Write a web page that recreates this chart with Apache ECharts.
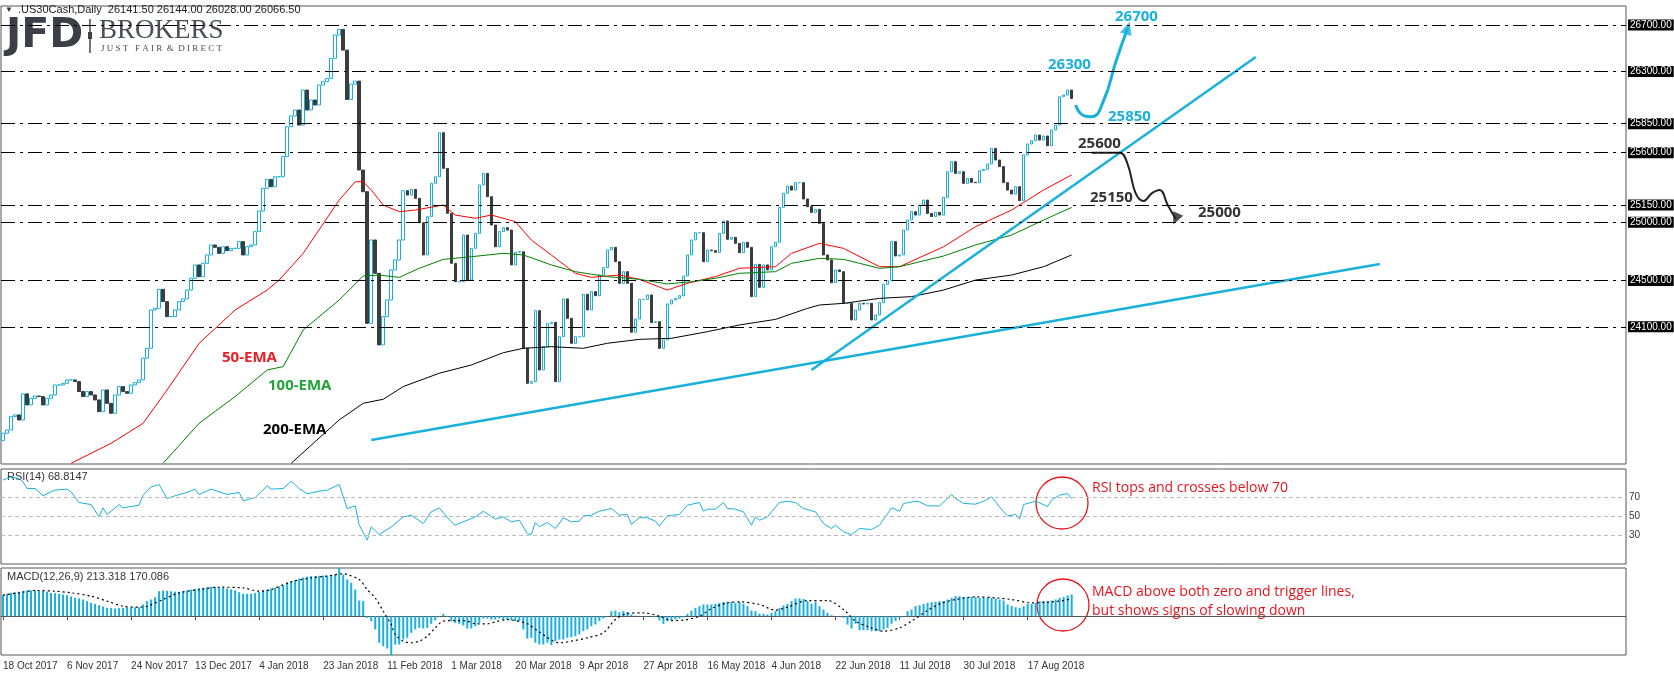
<!DOCTYPE html>
<html>
<head>
<meta charset="utf-8">
<script src="https://cdn.jsdelivr.net/npm/echarts@6/dist/echarts.min.js"></script>
<style>
  html, body { margin: 0; padding: 0; background: #fff; }
  #chart { width: 1674px; height: 675px; }
</style>
</head>
<body>
<div id="chart"></div>
<script>
// date labels, one every 16 daily bars
var dateLabels = ['18 Oct 2017', '6 Nov 2017', '24 Nov 2017', '13 Dec 2017', '4 Jan 2018', '23 Jan 2018',
  '11 Feb 2018', '1 Mar 2018', '20 Mar 2018', '9 Apr 2018', '27 Apr 2018', '16 May 2018', '4 Jun 2018',
  '22 Jun 2018', '11 Jul 2018', '30 Jul 2018', '17 Aug 2018'];

// daily closes of .US30Cash
var closes = [
  23183, 23211, 23326, 23341, 23297, 23522, 23427, 23484, 23504, 23499,
  23427, 23484, 23513, 23599, 23599, 23613, 23642, 23642, 23628, 23542,
  23499, 23542, 23513, 23470, 23369, 23556, 23441, 23355, 23513, 23585,
  23542, 23527, 23599, 23619, 23642, 23829, 23915, 24245, 24259, 24423,
  24317, 24188, 24188, 24245, 24317, 24340, 24417, 24518, 24633, 24532,
  24647, 24719, 24805, 24785, 24733, 24790, 24756, 24776, 24776, 24834,
  24719, 24790, 24805, 24920, 25098, 25293, 25370, 25307, 25393, 25393,
  25566, 25824, 25916, 25968, 25838, 26140, 25968, 26054, 26011, 26183,
  26212, 26240, 26413, 26614, 26662, 26484, 26059, 26191, 26217, 25451,
  25264, 24130, 24848, 24561, 23944, 24188, 24331, 24590, 24676, 24848,
  25273, 25235, 25284, 25207, 24997, 24719, 25049, 25336, 25393, 25772,
  25465, 25078, 24647, 24489, 24489, 24891, 24503, 24776, 24905, 25322,
  25422, 25221, 24977, 24790, 24920, 24954, 24934, 24633, 24742, 24747,
  23915, 23613, 23628, 24239, 23728, 23929, 24130, 24139, 23628, 24015,
  24340, 24173, 23958, 24015, 24015, 24380, 24245, 24403, 24368, 24546,
  24610, 24762, 24785, 24661, 24475, 24575, 24475, 24053, 24167, 24337,
  24337, 24374, 24136, 24144, 23915, 23987, 24297, 24331, 24345, 24368,
  24538, 24719, 24848, 24911, 24911, 24661, 24762, 24756, 24742, 24905,
  25012, 24854, 24871, 24819, 24739, 24828, 24785, 24360, 24638, 24440,
  24633, 24590, 24790, 24828, 25129, 25250, 25313, 25278, 25342, 25342,
  25201, 25135, 25086, 25112, 24991, 24719, 24676, 24480, 24590, 24575,
  24302, 24302, 24159, 24245, 24302, 24297, 24302, 24159, 24202, 24308,
  24466, 24498, 24834, 24710, 24719, 24934, 25020, 25092, 25063, 25149,
  25192, 25077, 25049, 25086, 25063, 25215, 25436, 25523, 25422, 25436,
  25336, 25379, 25345, 25342, 25445, 25457, 25503, 25637, 25537, 25480,
  25342, 25278, 25244, 25307, 25187, 25580, 25675, 25703, 25752, 25709,
  25744, 25660, 25795, 25838, 26082, 26097, 26140, 26066.5
];
var firstOpen = 23120;

// moving averages: [bar, value]
var ema50 = [[17, 22924], [27, 23096], [35, 23269], [41, 23556], [49, 23958], [58, 24245], [66, 24417],
  [69, 24503], [75, 24733], [84, 25192], [88, 25350], [90, 25350], [92, 25279], [95, 25149], [99, 25092],
  [103, 25106], [110, 25149], [113, 25063], [118, 25035], [122, 25063], [128, 25006], [132, 24848],
  [137, 24719], [143, 24561], [147, 24526], [154, 24546], [159, 24509], [166, 24417], [171, 24475],
  [178, 24532], [184, 24604], [193, 24618], [197, 24733], [204, 24819], [210, 24776], [219, 24618],
  [224, 24618], [235, 24790], [243, 24963], [252, 25106], [260, 25279], [267, 25408]];
var ema100 = [[40, 22924], [49, 23269], [58, 23499], [66, 23728], [70, 23757], [75, 24073], [84, 24331],
  [90, 24538], [94, 24546], [99, 24526], [104, 24604], [110, 24681], [117, 24704], [125, 24733],
  [130, 24719], [137, 24633], [143, 24575], [151, 24532], [159, 24509], [166, 24469], [172, 24489],
  [178, 24518], [184, 24561], [193, 24575], [197, 24647], [204, 24690], [210, 24681], [219, 24604],
  [224, 24618], [235, 24710], [243, 24805], [252, 24891], [260, 25020], [267, 25129]];
var ema200 = [[72, 22924], [84, 23298], [90, 23441], [95, 23476], [100, 23585], [109, 23700],
  [117, 23771], [125, 23877], [130, 23915], [137, 23929], [145, 23915], [151, 23958], [159, 23992],
  [167, 24001], [176, 24058], [184, 24116], [193, 24164], [201, 24259], [204, 24288], [210, 24302],
  [219, 24345], [227, 24360], [235, 24417], [243, 24503], [252, 24546], [260, 24618], [267, 24719]];

// trend lines and scenario paths: [bar, price]
var trendLong = [[92, 23125], [344, 24641]];
var trendShort = [[202, 23728], [313, 26424]];
var pathUp = [[268, 26011], [270, 25920], [272, 25910], [275, 26050], [278, 26380], [281, 26674]];
var pathDown = [[272, 25600], [279, 25600], [281, 25500], [283, 25250], [285, 25184], [287, 25250],
  [288.8, 25279], [291, 25150], [293, 25029]];
var levels = [26700, 26300, 25850, 25600, 25150, 25000, 24500, 24100];
var priceTicks = [26642.3, 26358.5, 25782.3, 25498.5, 25214.7, 24930.9, 24647.1, 24354.7,
  23787.1, 23503.3, 23219.5, 22935.7];

// RSI(14): [bar, value]
var rsi = [[0, 88.3], [2, 91.8], [4, 90.0], [5, 86.5], [6, 79.5], [8, 79.5], [10, 71.8], [12, 76.0],
  [13, 77.7], [16, 78.8], [17, 76.0], [19, 64.7], [22, 62.6], [24, 49.6], [25, 59.1], [26, 52.1],
  [29, 62.6], [30, 59.1], [34, 61.9], [35, 72.5], [37, 81.2], [39, 83.7], [41, 68.9], [44, 73.2],
  [46, 75.3], [48, 78.8], [49, 73.2], [52, 78.8], [56, 73.2], [59, 75.3], [60, 66.5], [63, 70.0],
  [66, 82.3], [67, 78.8], [70, 79.5], [72, 87.2], [74, 79.5], [76, 73.9], [79, 76.7], [81, 77.7],
  [84, 83.7], [86, 58.4], [88, 61.2], [89, 40.9], [91, 25.1], [92, 39.1], [94, 31.0], [97, 39.1],
  [100, 49.6], [102, 51.4], [105, 42.6], [107, 54.9], [109, 59.1], [112, 44.4], [113, 40.9],
  [116, 46.1], [118, 49.6], [120, 55.6], [123, 47.2], [125, 49.6], [127, 44.4], [129, 46.1],
  [131, 32.1], [132, 31.0], [133, 43.7], [134, 39.1], [136, 43.7], [138, 37.4], [140, 48.6],
  [142, 44.4], [144, 45.1], [145, 50.7], [147, 51.4], [149, 55.6], [152, 58.4], [154, 51.4],
  [156, 52.1], [157, 41.6], [159, 48.9], [161, 48.6], [163, 45.1], [164, 39.8], [166, 50.7],
  [169, 52.1], [171, 61.9], [174, 64.7], [175, 55.6], [176, 57.7], [178, 57.7], [180, 64.7],
  [181, 58.4], [183, 57.7], [185, 54.9], [187, 40.9], [188, 49.6], [189, 46.1], [191, 49.6],
  [192, 54.9], [194, 64.7], [196, 66.1], [198, 64.7], [200, 58.4], [203, 54.9], [205, 42.6],
  [207, 37.4], [208, 40.9], [210, 33.8], [212, 31.0], [214, 37.4], [217, 36.3], [219, 40.9],
  [222, 59.1], [224, 55.6], [225, 63.7], [228, 66.1], [229, 65.4], [231, 61.2], [234, 61.2],
  [237, 73.2], [238, 68.9], [240, 63.7], [243, 63.0], [245, 66.1], [247, 70.7], [250, 54.9],
  [251, 50.7], [253, 52.1], [254, 47.2], [255, 62.6], [258, 66.1], [261, 60.5], [262, 67.2],
  [264, 72.5], [266, 74.2], [267, 68.8]];

// MACD(12,26,9) main values, one per bar
var macd = [
  207, 220, 229, 236, 240, 246, 253, 253, 253, 249,
  246, 240, 229, 227, 220, 213, 207, 194, 180, 174,
  164, 148, 131, 121, 108, 95, 82, 79, 75, 79,
  82, 86, 88, 88, 88, 115, 148, 164, 187, 246,
  253, 249, 246, 242, 240, 246, 253, 262, 269, 275,
  279, 285, 289, 289, 285, 279, 272, 262, 253, 236,
  220, 220, 220, 229, 240, 253, 262, 272, 279, 292,
  304, 324, 344, 357, 370, 381, 390, 394, 394, 397,
  400, 400, 403, 410, 474, 410, 361, 328, 262, 154,
  148, -17, -49, -131, -262, -295, -318, -382, -279, -279,
  -229, -213, -164, -131, -115, -121, -115, -75, -42, -4,
  23, -4, -49, -66, -75, -92, -121, -121, -99, -66,
  -23, -23, -33, -33, -23, -33, -33, -42, -49, -49,
  -131, -220, -213, -262, -279, -279, -262, -285, -246, -229,
  -229, -213, -207, -196, -180, -148, -131, -99, -82, -49,
  -23, -3, 49, 55, 39, 49, 42, 16, 4, 3,
  2, -2, -3, -10, -42, -75, -49, -42, -33, -23,
  -10, 23, 55, 82, 99, 115, 115, 115, 121, 131,
  141, 141, 141, 131, 141, 121, 99, 55, 49, 23,
  23, 16, 33, 49, 82, 105, 121, 148, 174, 174,
  170, 148, 121, 141, 99, 66, 33, 10, 3, -3,
  -16, -82, -121, -75, -138, -138, -138, -148, -148, -148,
  -131, -115, -75, -49, -16, 2, 49, 66, 99, 108,
  121, 131, 138, 141, 148, 148, 164, 180, 196, 196,
  190, 190, 190, 187, 180, 180, 180, 180, 174, 164,
  154, 115, 99, 88, 82, 99, 121, 121, 131, 148,
  148, 148, 154, 164, 180, 190, 203, 213.3
];
// MACD signal line: [bar, value]
var signal = [[0, 207], [4, 230], [8, 253], [13, 246], [17, 230], [22, 197], [26, 148], [30, 98],
  [34, 89], [36, 98], [40, 164], [44, 230], [49, 262], [54, 285], [60, 279], [64, 246], [67, 262],
  [72, 338], [77, 377], [81, 394], [85, 417], [86, 410], [89, 361], [91, 262], [93, 180], [95, 49],
  [97, -82], [98, -180], [100, -246], [102, -262], [104, -246], [106, -197], [108, -115], [110, -49],
  [113, -43], [116, -49], [118, -75], [121, -75], [123, -56], [126, -33], [128, -43], [131, -75],
  [134, -155], [139, -262], [142, -246], [146, -213], [150, -164], [153, -33], [156, 26], [160, 33],
  [164, 0], [167, -43], [170, -39], [174, 0], [177, 75], [181, 131], [184, 141], [189, 115],
  [193, 59], [196, 89], [201, 154], [206, 154], [210, 66], [213, -49], [217, -115], [220, -148],
  [224, -115], [227, -49], [231, 56], [234, 121], [238, 164], [243, 190], [248, 180], [252, 164],
  [257, 131], [261, 138], [264, 148], [267, 170.086]];

var NBARS = 406;
var categories = [];
for (var i = 0; i < NBARS; i++) {
  categories.push(i % 16 === 0 && dateLabels[i / 16] ? dateLabels[i / 16] : '');
}
var candles = [];
for (var i = 0; i < closes.length; i++) {
  var o = i === 0 ? firstOpen : closes[i - 1];
  var c = closes[i];
  candles.push([o, c, Math.min(o, c), Math.max(o, c)]);
}

var FONT = 'Liberation Sans';
var CYAN = '#1ab0dc';
var dashDot = [14, 5, 3, 5];

var markData = [];
levels.forEach(function (v) {
  markData.push({
    yAxis: v,
    lineStyle: { color: '#000', type: dashDot, width: 1 },
    label: { formatter: v.toFixed(2), backgroundColor: '#000', color: '#fff', padding: [1, 2, 0, 2] }
  });
});
priceTicks.forEach(function (v) {
  markData.push({
    yAxis: v,
    lineStyle: { opacity: 0 },
    label: { formatter: v.toFixed(2), color: '#333', padding: [1, 2, 0, 2] }
  });
});
markData.push({
  yAxis: 26066.5,
  lineStyle: { opacity: 0 },
  label: { formatter: '26066.50', backgroundColor: '#444', color: '#fff', padding: [1, 2, 0, 2] }
});

var chart = echarts.init(document.getElementById('chart'));
var option = {
  animation: false,
  textStyle: { fontFamily: FONT },
  grid: [
    { left: 1, right: 48, top: 6, height: 458, show: true, borderColor: '#555', borderWidth: 1 },
    { left: 1, right: 48, top: 469, height: 95, show: true, borderColor: '#555', borderWidth: 1 },
    { left: 1, right: 48, top: 568, height: 87, show: true, borderColor: '#555', borderWidth: 1 }
  ],
  xAxis: [0, 1, 2].map(function (g) {
    return {
      type: 'category', gridIndex: g, data: categories, boundaryGap: true,
      axisLine: { show: g === 2, lineStyle: { color: '#555' } },
      axisTick: { show: g === 2, alignWithLabel: true, length: 4, lineStyle: { color: '#555' },
        interval: function (idx, v) { return v !== ''; } },
      axisLabel: { show: g === 2, align: 'left', color: '#333', fontSize: 10, margin: 6,
        interval: function (idx, v) { return v !== ''; } },
      splitLine: { show: false }
    };
  }),
  yAxis: [
    { type: 'value', gridIndex: 0, min: 22918, max: 26864, position: 'right', show: false, splitLine: { show: false } },
    { type: 'value', gridIndex: 1, min: 0, max: 100, position: 'right', show: false, splitLine: { show: false } },
    { type: 'value', gridIndex: 2, min: -381.884, max: 474.009, position: 'right', show: false, splitLine: { show: false } }
  ],
  series: [
    {
      type: 'candlestick', xAxisIndex: 0, yAxisIndex: 0, data: candles, barWidth: 3,
      itemStyle: { color: '#fff', borderColor: CYAN, color0: '#3c3c3c', borderColor0: '#3c3c3c', borderWidth: 1 },
      markLine: {
        symbol: 'none', silent: true, animation: false,
        label: { position: 'end', distance: 2, fontSize: 10, fontFamily: FONT },
        data: markData
      }
    },
    { type: 'line', data: ema50, showSymbol: false, lineStyle: { color: '#ff0000', width: 1 } },
    { type: 'line', data: ema100, showSymbol: false, lineStyle: { color: '#008000', width: 1 } },
    { type: 'line', data: ema200, showSymbol: false, lineStyle: { color: '#000', width: 1 } },
    { type: 'line', data: trendLong, showSymbol: false, lineStyle: { color: CYAN, width: 2.5 } },
    { type: 'line', data: trendShort, showSymbol: false, lineStyle: { color: CYAN, width: 2.5 } },
    { type: 'line', data: pathUp, smooth: 0.5, showSymbol: false, lineStyle: { color: CYAN, width: 3 } },
    { type: 'line', data: pathDown, smooth: 0.4, showSymbol: false, lineStyle: { color: '#222', width: 2 } },
    {
      type: 'scatter', data: [pathUp[pathUp.length - 1]], symbol: 'triangle', symbolSize: [12, 13],
      symbolRotate: -18, itemStyle: { color: CYAN }
    },
    {
      type: 'scatter', data: [pathDown[pathDown.length - 1]], symbol: 'triangle', symbolSize: [11, 12],
      symbolRotate: 155, itemStyle: { color: '#222' }
    },
    {
      type: 'line', xAxisIndex: 1, yAxisIndex: 1, data: rsi, showSymbol: false,
      lineStyle: { color: CYAN, width: 1 },
      markLine: {
        symbol: 'none', silent: true,
        lineStyle: { color: '#bbb', type: [4, 3], width: 1 },
        label: { position: 'end', distance: 3, color: '#333', fontSize: 10, fontFamily: FONT },
        data: [{ yAxis: 70 }, { yAxis: 50 }, { yAxis: 30 }]
      }
    },
    {
      type: 'bar', xAxisIndex: 2, yAxisIndex: 2, data: macd, barWidth: 2,
      itemStyle: { color: CYAN },
      markLine: {
        symbol: 'none', silent: true, lineStyle: { opacity: 0 },
        label: { position: 'end', distance: 3, color: '#333', fontSize: 10, fontFamily: FONT },
        data: [
          { yAxis: 474.009, label: { formatter: '474.009', verticalAlign: 'top' } },
          { yAxis: 0, label: { formatter: '0.00' } },
          { yAxis: -381.884, label: { formatter: '-381.884', verticalAlign: 'bottom' } }
        ]
      }
    },
    {
      type: 'line', xAxisIndex: 2, yAxisIndex: 2, data: signal, smooth: 0.3, showSymbol: false,
      lineStyle: { color: '#000', width: 1.2, type: [2, 3] }
    }
  ],
  graphic: [
    { type: 'text', left: 5, top: 6, style: { text: '▼', font: '8px ' + FONT, fill: '#333' } },
    { type: 'text', left: 18, top: 4, style: { text: '.US30Cash,Daily  26141.50 26144.00 26028.00 26066.50', font: '11px ' + FONT, fill: '#222' } },
    { type: 'text', left: 6, top: 16, style: { text: 'JFD', font: 'bold 41px "DejaVu Sans"', fill: '#3b4048' } },
    { type: 'rect', shape: { x: 89, y: 19, width: 2, height: 34 }, style: { fill: '#777' } },
    { type: 'rect', shape: { x: 88, y: 32, width: 4, height: 7 }, style: { fill: '#3b4048' } },
    { type: 'text', left: 99, top: 17, style: { text: 'BROKERS', font: '27px "Liberation Serif"', fill: '#4a4f57' } },
    { type: 'text', left: 101, top: 44, style: { text: 'J U S T   F A I R  &  D I R E C T', font: '9px "Liberation Serif"', fill: '#4a4f57' } },

    { type: 'text', left: 222, top: 350, style: { text: '50-EMA', font: 'bold 15px "Open Sans"', fill: '#ee1c24' } },
    { type: 'text', left: 268, top: 378, style: { text: '100-EMA', font: 'bold 15px "Open Sans"', fill: '#23a33a' } },
    { type: 'text', left: 263, top: 422, style: { text: '200-EMA', font: 'bold 15px "Open Sans"', fill: '#000' } },

    { type: 'text', left: 1115, top: 9, style: { text: '26700', font: 'bold 15px "Open Sans"', fill: CYAN } },
    { type: 'text', left: 1048, top: 57, style: { text: '26300', font: 'bold 15px "Open Sans"', fill: CYAN } },
    { type: 'text', left: 1108, top: 109, style: { text: '25850', font: 'bold 15px "Open Sans"', fill: CYAN } },
    { type: 'text', left: 1078, top: 136, style: { text: '25600', font: 'bold 15px "Open Sans"', fill: '#333' } },
    { type: 'text', left: 1090, top: 190, style: { text: '25150', font: 'bold 15px "Open Sans"', fill: '#333' } },
    { type: 'text', left: 1198, top: 205, style: { text: '25000', font: 'bold 15px "Open Sans"', fill: '#333' } },

    { type: 'circle', shape: { cx: 1062, cy: 503, r: 26 }, style: { fill: 'none', stroke: '#e8141c', lineWidth: 1.3 } },
    { type: 'circle', shape: { cx: 1063, cy: 605, r: 26 }, style: { fill: 'none', stroke: '#e8141c', lineWidth: 1.3 } },
    { type: 'text', left: 1092, top: 481, style: { text: 'RSI tops and crosses below 70', font: '14px "Open Sans"', fill: '#e8141c' } },
    { type: 'text', left: 1092, top: 585, style: { text: 'MACD above both zero and trigger lines,', font: '14px "Open Sans"', fill: '#e8141c' } },
    { type: 'text', left: 1092, top: 604, style: { text: 'but shows signs of slowing down', font: '14px "Open Sans"', fill: '#e8141c' } },

    { type: 'text', left: 7, top: 471, style: { text: 'RSI(14) 68.8147', font: '11px ' + FONT, fill: '#333' } },
    { type: 'text', left: 7, top: 571, style: { text: 'MACD(12,26,9) 213.318 170.086', font: '11px ' + FONT, fill: '#333' } }
  ]
};
chart.setOption(option);
</script>
</body>
</html>
